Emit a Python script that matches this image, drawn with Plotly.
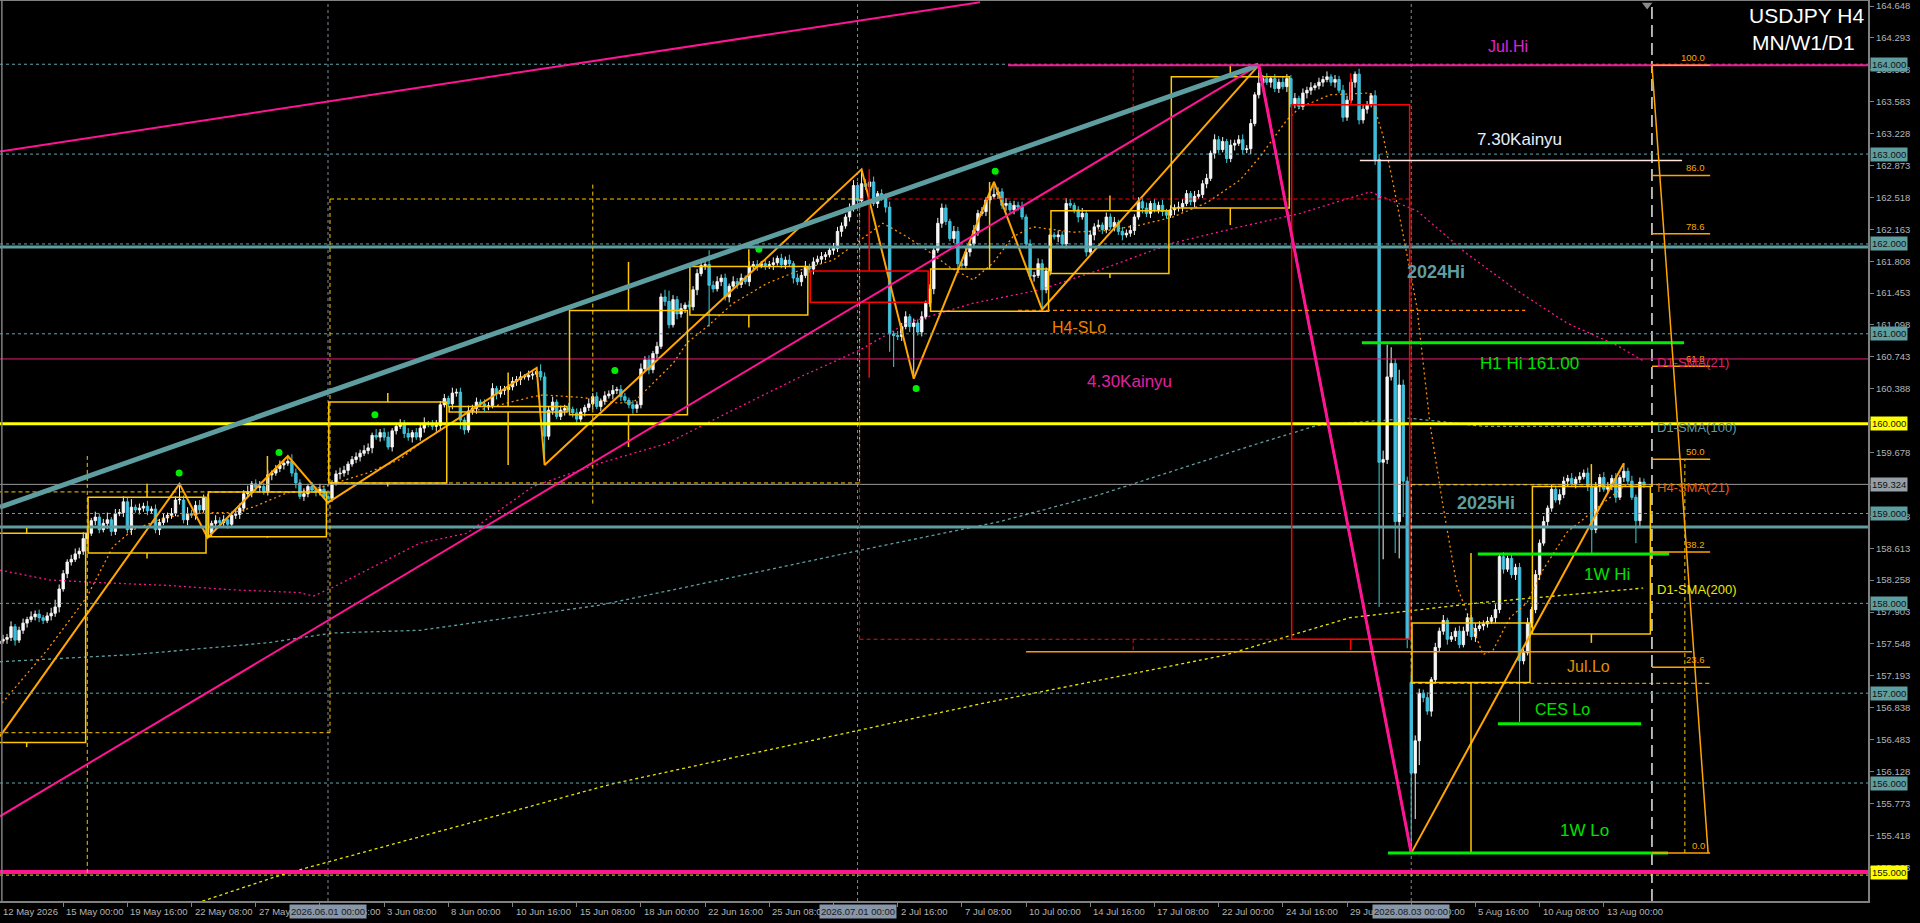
import plotly.graph_objects as go
from datetime import datetime, timedelta

# ---------------- DATA ----------------
# H4 closes, bar 0 = 12 May 2026 08:00 (trading bars only)
CLOSE = [
    157.58, 157.60, 157.62, 157.74, 157.59, 157.70, 157.78, 157.82, 157.85, 157.88,
    157.84, 157.81, 157.86, 157.89, 157.96, 158.16, 158.33, 158.46, 158.49, 158.55,
    158.58, 158.72, 158.78, 158.92, 158.96, 158.82, 158.89, 158.93, 158.80, 159.00,
    159.01, 159.13, 158.82, 159.07, 159.04, 159.06, 159.08, 159.03, 159.05, 158.82,
    158.90, 158.95, 158.98, 159.00, 159.15, 159.15, 158.93, 159.00, 158.98, 159.09,
    159.04, 159.17, 158.78, 158.89, 158.92, 158.90, 158.93, 158.88, 158.98, 158.99,
    159.06, 159.22, 159.24, 159.33, 159.29, 159.30, 159.24, 159.43, 159.45, 159.50,
    159.54, 159.56, 159.58, 159.45, 159.34, 159.19, 159.22, 159.30, 159.26, 159.24,
    159.27, 159.19, 159.17, 159.34, 159.44, 159.45, 159.48, 159.55, 159.60, 159.63,
    159.67, 159.70, 159.73, 159.87, 159.85, 159.90, 159.85, 159.74, 159.92, 159.97,
    160.00, 159.89, 159.85, 159.90, 159.85, 159.95, 160.00, 159.99, 159.97, 159.98,
    160.21, 160.28, 160.22, 160.34, 160.35, 160.04, 159.93, 160.14, 160.17, 160.24,
    160.22, 160.19, 160.20, 160.39, 160.33, 160.37, 160.38, 160.41, 160.47, 160.49,
    160.52, 160.52, 160.54, 160.55, 160.58, 160.52, 159.86, 160.15, 160.24, 160.08,
    160.15, 160.17, 160.16, 160.12, 160.05, 160.13, 160.18, 160.22, 160.30, 160.19,
    160.25, 160.31, 160.33, 160.37, 160.38, 160.30, 160.26, 160.21, 160.17, 160.21,
    160.61, 160.71, 160.60, 160.78, 160.86, 161.41, 161.36, 161.10, 161.38, 161.22,
    161.28, 161.32, 161.30, 161.49, 161.67, 161.76, 161.77, 161.54, 161.50, 161.58,
    161.62, 161.41, 161.53, 161.58, 161.55, 161.62, 161.58, 161.75, 161.77, 161.76,
    161.78, 161.76, 161.77, 161.79, 161.84, 161.77, 161.82, 161.78, 161.62, 161.58,
    161.65, 161.75, 161.72, 161.80, 161.83, 161.86, 161.88, 161.93, 161.95, 162.14,
    162.20, 162.30, 162.40, 162.65, 162.48, 162.67, 162.64, 162.69, 162.45, 162.56,
    162.52, 162.41, 161.00, 160.98, 160.97, 161.08, 161.19, 161.08, 161.12, 161.02,
    161.19, 161.34, 161.50, 161.93, 162.23, 162.40, 162.25, 162.06, 162.14, 161.78,
    161.76, 161.91, 162.00, 162.15, 162.34, 162.36, 162.49, 162.53, 162.55, 162.58,
    162.43, 162.45, 162.38, 162.43, 162.41, 162.30, 162.00, 161.64, 161.65, 161.78,
    161.49, 161.70, 162.10, 162.08, 162.10, 162.00, 162.45, 162.43, 162.38, 162.30,
    162.34, 161.91, 162.10, 162.19, 162.21, 162.16, 162.30, 162.19, 162.24, 162.14,
    162.10, 162.12, 162.15, 162.30, 162.47, 162.40, 162.34, 162.45, 162.38, 162.43,
    162.36, 162.32, 162.38, 162.40, 162.41, 162.45, 162.56, 162.47, 162.53, 162.55,
    162.67, 162.73, 163.01, 163.16, 163.05, 163.14, 162.95, 163.10, 163.12, 163.16,
    163.05, 163.06, 163.34, 163.66, 163.79, 163.84, 163.80, 163.84, 163.73, 163.80,
    163.75, 163.84, 163.56, 163.62, 163.53, 163.68, 163.71, 163.74, 163.76, 163.80,
    163.83, 163.86, 163.80, 163.83, 163.71, 163.41, 163.60, 163.80, 163.89, 163.38,
    163.50, 163.55, 163.65, 162.94, 159.57, 159.60, 160.52, 160.67, 158.91, 160.43,
    159.36, 157.60, 156.11, 156.47, 157.00, 156.95, 156.80, 157.15, 157.51, 157.69,
    157.81, 157.60, 157.63, 157.69, 157.54, 157.69, 157.84, 157.63, 157.72, 157.75,
    157.77, 157.80, 157.84, 157.93, 158.52, 158.38, 158.50, 158.32, 158.40, 157.36,
    157.45, 157.78, 157.93, 158.32, 158.67, 158.91, 159.06, 159.27, 159.15, 159.21,
    159.36, 159.39, 159.33, 159.38, 159.41, 159.45, 159.30, 158.82, 159.30, 159.40,
    159.27, 159.30, 159.39, 159.18, 159.40, 159.47, 159.36, 159.18, 158.92, 159.35,
    159.324,
]
FIRST_OPEN = 157.55
GAP_OPEN = {352: 157.12}
# wick lengths in hundredths of a yen
UP_WICK = [
    3, 5, 4, 6, 3, 4, 5, 3, 6, 4, 5, 3, 4, 6, 8, 5, 4, 3, 5, 6,
    4, 7, 5, 3, 6, 4, 5, 8, 3, 5, 4, 6, 5, 9, 3, 5, 4, 6, 3, 5,
    4, 5, 3, 6, 4, 18, 5, 7, 4, 5, 6, 4, 5, 3, 6, 4, 5, 3, 4, 6,
    5, 4, 7, 3, 5, 6, 4, 5, 3, 4, 5, 4, 6, 8, 5, 4, 6, 3, 5, 4,
    6, 4, 5, 3, 4, 6, 5, 3, 4, 5, 4, 6, 5, 3, 7, 4, 5, 6, 3, 4,
    5, 4, 6, 3, 5, 4, 7, 3, 5, 6, 4, 5, 3, 6, 4, 5, 3, 6, 4, 5,
    3, 5, 4, 6, 3, 5, 4, 3, 5, 4, 6, 3, 5, 4, 5, 8, 5, 4, 6, 3,
    5, 4, 6, 3, 5, 4, 3, 6, 4, 5, 3, 5, 4, 6, 3, 5, 4, 3, 5, 4,
    6, 4, 5, 3, 5, 4, 8, 12, 5, 4, 6, 3, 5, 4, 5, 3, 4, 16, 5, 6,
    4, 5, 3, 6, 4, 5, 3, 6, 4, 5, 3, 5, 4, 6, 3, 5, 4, 6, 3, 5,
    4, 6, 3, 5, 4, 5, 3, 4, 6, 5, 4, 3, 5, 6, 4, 16, 5, 4, 6, 3,
    5, 4, 6, 3, 5, 4, 6, 3, 5, 4, 6, 3, 5, 4, 6, 5, 4, 3, 6, 5,
    4, 5, 3, 6, 4, 5, 3, 6, 14, 5, 4, 6, 3, 5, 4, 6, 3, 5, 4, 6,
    5, 4, 6, 3, 5, 4, 6, 5, 3, 4, 6, 3, 5, 4, 6, 3, 5, 4, 6, 3,
    5, 4, 6, 3, 5, 4, 6, 3, 5, 4, 6, 3, 5, 4, 6, 5, 4, 3, 6, 5,
    4, 5, 3, 6, 4, 5, 3, 6, 4, 5, 6, 4, 5, 3, 20, 4, 6, 3, 5, 4,
    6, 5, 4, 6, 3, 5, 4, 6, 3, 5, 4, 6, 3, 5, 4, 6, 5, 4, 3, 6,
    5, 4, 3, 6, 6, 10, 36, 18, 5, 17, 6, 5, 8, 6, 5, 4, 6, 3, 5, 4,
    6, 3, 5, 4, 6, 5, 4, 3, 6, 5, 4, 5, 3, 6, 4, 5, 3, 6, 4, 5,
    4, 6, 3, 5, 4, 6, 3, 5, 4, 6, 5, 4, 6, 3, 5, 4, 6, 3, 5, 4,
    6, 5, 4, 6, 3, 9, 4, 6, 3, 5, 4,
]
DN_WICK = [
    4, 3, 5, 4, 6, 3, 4, 5, 3, 4, 5, 4, 3, 5, 4, 6, 3, 5, 4, 3,
    5, 4, 6, 3, 5, 4, 3, 6, 5, 4, 3, 5, 4, 6, 3, 5, 4, 5, 3, 4,
    6, 3, 5, 4, 3, 5, 4, 6, 3, 5, 4, 3, 5, 4, 6, 3, 4, 5, 3, 4,
    5, 4, 3, 6, 4, 5, 3, 4, 6, 3, 4, 5, 3, 4, 6, 3, 5, 4, 3, 5,
    4, 3, 5, 4, 3, 6, 4, 5, 3, 4, 5, 3, 4, 6, 3, 5, 4, 3, 5, 4,
    3, 5, 4, 6, 3, 4, 5, 3, 4, 6, 5, 3, 4, 6, 4, 10, 5, 3, 4, 6,
    3, 5, 4, 3, 6, 4, 5, 3, 4, 5, 6, 3, 4, 5, 3, 4, 32, 4, 5, 3,
    4, 6, 3, 5, 4, 3, 5, 4, 6, 3, 5, 4, 3, 6, 4, 5, 3, 4, 6, 5,
    4, 3, 5, 4, 6, 3, 5, 4, 3, 6, 4, 5, 3, 4, 6, 3, 5, 46, 4, 3,
    5, 4, 6, 3, 5, 4, 3, 5, 4, 6, 3, 5, 4, 6, 3, 4, 5, 3, 6, 4,
    5, 3, 4, 6, 3, 5, 4, 3, 5, 4, 6, 3, 5, 4, 3, 5, 4, 6, 3, 5,
    4, 6, 20, 35, 4, 5, 3, 6, 58, 4, 5, 3, 4, 6, 3, 5, 4, 3, 5, 6,
    4, 3, 5, 4, 6, 3, 5, 4, 3, 5, 4, 6, 3, 5, 4, 3, 5, 4, 6, 3,
    22, 4, 5, 3, 6, 4, 5, 3, 4, 6, 3, 5, 4, 6, 3, 5, 4, 3, 5, 4,
    6, 3, 4, 5, 3, 6, 4, 5, 3, 4, 5, 4, 3, 6, 4, 5, 3, 4, 6, 3,
    4, 5, 3, 6, 4, 3, 5, 4, 6, 3, 5, 4, 6, 3, 4, 5, 3, 6, 4, 5,
    3, 6, 4, 5, 3, 4, 6, 5, 3, 4, 5, 3, 4, 6, 3, 5, 4, 3, 6, 5,
    4, 5, 3, 6, 161, 108, 5, 4, 35, 41, 40, 10, 89, 51, 27, 5, 4, 6, 3, 5,
    4, 6, 3, 5, 4, 3, 5, 4, 6, 3, 5, 4, 3, 6, 4, 5, 3, 4, 6, 68,
    4, 3, 5, 4, 6, 3, 5, 4, 3, 5, 4, 6, 3, 5, 4, 3, 5, 26, 4, 6,
    3, 5, 4, 6, 3, 5, 4, 3, 25, 7, 4,
]

# weekly higher-timeframe candles (first bar index of each week)
WEEK_FIRST_BAR = [-8, 22, 52, 82, 112, 142, 172, 202, 232, 262, 292, 322, 352, 382]
WEEK_OPEN = [156.45, 158.56, 158.74, 159.34, 160.13, 160.10, 161.21, 161.70, 161.25, 161.67, 162.40, 163.55, 157.12, 157.66]
WEEK_CLOSE = [158.78, 159.18, 159.24, 160.24, 160.19, 161.26, 161.75, 161.35, 161.72, 162.37, 163.86, 157.60, 157.78, 159.30]
WEEK_HIGH = [158.84, 159.33, 159.64, 160.34, 160.57, 161.80, 161.94, 162.83, 162.69, 162.54, 163.98, 163.90, 158.56, 159.55]
WEEK_LOW = [156.40, 158.50, 158.73, 159.30, 159.54, 159.74, 161.07, 160.51, 161.25, 161.62, 162.21, 157.48, 155.22, 157.56]

# monthly higher-timeframe candles
MONTH_X0 = [-44, 82.5, 214.5, 352]
MONTH_X1 = [82.5, 214.5, 352, 426.5]
MONTH_WICK_X = [22, 148, 282.7, 420.2]
MONTH_OPEN = [156.56, 159.34, 162.50, 157.11]
MONTH_CLOSE = [159.24, 162.50, 157.60, 159.32]
MONTH_HIGH = [159.64, 162.68, 164.00, 159.60]
MONTH_LOW = [155.00, 159.11, 157.48, 155.22]
MONTH_RIGHT_EDGE = [True, True, True, False]
MONTH_WICK_THROUGH_BODY = [True, True, False, True]

# moving averages (waypoints)
H4SMA21_X = [0.75, 12.0, 21.9, 28.4, 33.4, 41.9, 51.8, 58.3, 63.3, 71.8, 77.5, 82.5, 91.7, 99.9, 104.9, 116.6,
             133.1, 135.6, 145.6, 154.0, 158.0, 163.0, 168.0, 171.5, 176.5, 183.0, 191.4, 199.7, 207.9, 214.6,
             220.3, 226.3, 231.3, 237.0, 242.8, 247.8, 252.7, 257.7, 267.7, 276.2, 284.4, 292.6, 301.1, 309.3,
             314.3, 321.0, 324.3, 331.8, 341.7, 345.0, 347.5, 350.9, 353.4, 356.7, 359.9, 363.4, 365.9, 369.9,
             372.4, 376.6, 380.9, 384.8, 390.8, 399.0, 405.8, 409.8]
H4SMA21_Y = [156.89, 157.48, 158.07, 158.63, 158.82, 158.96, 159.01, 159.01, 159.07, 159.23, 159.26, 159.32, 159.45,
             159.60, 159.78, 160.12, 160.30, 160.32, 160.29, 160.23, 160.23, 160.45, 160.67, 160.90, 161.08, 161.34,
             161.56, 161.71, 161.82, 162.04, 162.23, 162.08, 161.93, 161.74, 161.60, 161.79, 162.08, 162.19, 162.13,
             162.15, 162.21, 162.30, 162.46, 162.71, 162.97, 163.38, 163.52, 163.66, 163.68, 163.20, 162.67, 161.89,
             161.30, 159.99, 159.09, 158.19, 157.90, 157.43, 157.48, 157.84, 158.01, 158.37, 158.79, 159.09, 159.33,
             159.27]
D1SMA21_X = [0.25, 12.7, 25.2, 41.9, 58.3, 75.0, 78.3, 83.3, 91.7, 104.9, 116.6, 133.1, 149.8, 166.5, 182.9, 199.7,
             214.6, 226.3, 242.8, 259.5, 276.2, 292.6, 309.3, 324.3, 341.7, 353.4, 365.9, 378.4, 390.8, 403.3, 409.8]
D1SMA21_Y = [158.37, 158.26, 158.23, 158.20, 158.15, 158.12, 158.08, 158.18, 158.37, 158.67, 158.78, 159.30, 159.56,
             159.78, 160.15, 160.52, 160.82, 161.12, 161.34, 161.49, 161.74, 162.01, 162.19, 162.34, 162.58, 162.37,
             161.89, 161.48, 161.12, 160.87, 160.70]
D1SMA100_X = [0.25, 33.4, 66.8, 83.2, 104.9, 149.8, 191.4, 214.6, 249.5, 274.4, 311.8, 328.5, 351.7, 369.9, 409.8]
D1SMA100_Y = [157.35, 157.43, 157.56, 157.67, 157.70, 157.98, 158.37, 158.59, 158.91, 159.21, 159.75, 159.98, 160.06,
              159.97, 159.97]
D1SMA200_X = [45.0, 70.5, 152.8, 244.5, 305.3, 336.7, 369.9, 409.8]
D1SMA200_Y = [154.60, 154.98, 155.99, 156.88, 157.42, 157.84, 158.01, 158.17]

# zigzag swing points
ZZ_X = [0.25, 45, 52, 72, 82, 134, 136, 215, 228, 248, 260, 314, 352, 405]
ZZ_Y = [156.52, 159.33, 158.73, 159.64, 159.12, 160.62, 159.54, 162.83, 160.50, 162.69, 161.27, 163.99, 155.22, 159.56]

# fractal dots
FRACTAL_X = [44.9, 69.8, 93.7, 153.5, 189.4, 248.3, 228.6]
FRACTAL_Y = [159.45, 159.68, 160.10, 160.59, 161.94, 162.81, 160.39]

# trend lines (x: bar index, y: price)
TREND_TOP = ([0.25, 244.5], [163.03, 164.69])
TREND_TEAL = ([0.25, 314], [159.07, 163.99])
TREND_PINK = ([0.25, 314], [155.63, 163.99])
DROP_PINK = ([314, 352], [163.99, 155.22])

# horizontal levels
ROUND_LEVELS = [155, 156, 157, 158, 159, 160, 161, 162, 163, 164]
TEAL_LEVELS = [161.966, 158.85]
YELLOW_LEVEL = 160.0
MAGENTA_LEVEL = 155.01
YELLOW_DASH_LEVEL = 154.975
BID = 159.324
D1SMA21_LEVEL = 160.72

# partial horizontal segments: (x0, x1, price)
JUL_HI_SEG = (251.5, 466, 163.99)
KAINYU730_SEG = (339.2, 419.5, 162.93)
H1HI_SEG = (339.7, 420.0, 160.90)
W1HI_SEG = (368.6, 416.3, 158.55)
CESLO_SEG = (373.6, 409.3, 156.66)
W1LO_SEG = (346.2, 416.0, 155.22)
JULLO_SEG = (256.0, 422.0, 157.46)
H4SLO_SEG = (254.0, 380.4, 161.26)

# fibonacci retracement
FIB_LOW, FIB_HIGH = 155.22, 163.99
FIB_LEVELS = [0.0, 23.6, 38.2, 50.0, 61.8, 78.6, 86.0, 100.0]
FIB_X0, FIB_X1 = 412.0, 426.5

MONTH_LINES = [82, 214, 352]
SHIFT_LINE = 412.0

Y_TICKS = [round(164.648 - 0.355 * k, 3) for k in range(28)]
HIDDEN_TICK_TEXT = [160.033, 159.323]
PRICE_TAGS = [(164.0, "164.000", "#5f9ea0"), (163.0, "163.000", "#5f9ea0"), (162.0, "162.000", "#5f9ea0"),
              (161.0, "161.000", "#5f9ea0"), (160.0, "160.000", "#ffff00"), (159.324, "159.324", "#959fa8"),
              (159.0, "159.000", "#5f9ea0"), (158.0, "158.000", "#5f9ea0"), (157.0, "157.000", "#5f9ea0"),
              (156.0, "156.000", "#5f9ea0"), (155.0, "155.000", "#ffff00")]

# ---------------- BUILD ----------------
N = len(CLOSE)
OPEN = [FIRST_OPEN] + CLOSE[:-1]
for k, v in GAP_OPEN.items():
    OPEN[k] = v
HIGH = [max(OPEN[i], CLOSE[i]) + UP_WICK[i] / 100 for i in range(N)]
LOW = [min(OPEN[i], CLOSE[i]) - DN_WICK[i] / 100 for i in range(N)]

times = []
t = datetime(2026, 5, 12, 8, 0)
while len(times) < N:
    if t.weekday() < 5:
        times.append(t)
    t += timedelta(hours=4)

X_RANGE = [0.249, 465.85]
Y_RANGE = [154.687, 164.715]

fig = go.Figure()


def dotted(xs, ys, color, dash="2px,3px", width=1.3):
    fig.add_trace(go.Scatter(x=xs, y=ys, mode="lines", line=dict(color=color, width=width, dash=dash),
                             hoverinfo="skip", showlegend=False))


dotted(D1SMA200_X, D1SMA200_Y, "#e6e600", "3px,3px")
dotted(D1SMA100_X, D1SMA100_Y, "#5f9ea0", "3px,3px")
dotted(D1SMA21_X, D1SMA21_Y, "#ff1493", "2px,3px")
dotted(H4SMA21_X, H4SMA21_Y, "#ff8c00", "2px,3px")

# wicks
for bull in (True, False):
    wx, wy = [], []
    for i in range(N):
        if (CLOSE[i] >= OPEN[i]) == bull:
            wx += [i, i, None]
            wy += [LOW[i], HIGH[i], None]
    fig.add_trace(go.Scatter(x=wx, y=wy, mode="lines",
                             line=dict(color="#f4f4f4" if bull else "#3fd0d8", width=1),
                             hoverinfo="skip", showlegend=False))
# bodies
for bull in (True, False):
    bx, bb, bh = [], [], []
    for i in range(N):
        if (CLOSE[i] >= OPEN[i]) == bull:
            bx.append(i)
            lo = min(OPEN[i], CLOSE[i])
            bb.append(lo)
            bh.append(max(abs(CLOSE[i] - OPEN[i]), 0.008))
    fig.add_trace(go.Bar(x=bx, y=bh, base=bb, width=0.62,
                         marker=dict(color="#ffffff" if bull else "#2f9fe6",
                                     line=dict(color="#ffffff" if bull else "#4fd6e6", width=0.8)),
                         hoverinfo="skip", showlegend=False))

# zigzag
fig.add_trace(go.Scatter(x=ZZ_X, y=ZZ_Y, mode="lines", line=dict(color="#ffa500", width=2),
                         hoverinfo="skip", showlegend=False))
# fractals
fig.add_trace(go.Scatter(x=FRACTAL_X, y=FRACTAL_Y, mode="markers",
                         marker=dict(color="#00ee00", size=7), hoverinfo="skip", showlegend=False))
# shift marker triangle
fig.add_trace(go.Scatter(x=[410.8], y=[164.66], mode="markers",
                         marker=dict(color="#8a8a8a", size=9, symbol="triangle-down"),
                         hoverinfo="skip", showlegend=False))

shapes = []


def hline(y, x0=None, x1=None, color="#fff", width=1, dash="solid", layer="above"):
    if x0 is None:
        shapes.append(dict(type="line", xref="paper", yref="y", x0=0, x1=1, y0=y, y1=y,
                           line=dict(color=color, width=width, dash=dash), layer=layer))
    else:
        shapes.append(dict(type="line", xref="x", yref="y", x0=x0, x1=x1, y0=y, y1=y,
                           line=dict(color=color, width=width, dash=dash), layer=layer))


def seg(x0, y0, x1, y1, color, width=1, dash="solid", layer="above"):
    shapes.append(dict(type="line", xref="x", yref="y", x0=x0, x1=x1, y0=y0, y1=y1,
                       line=dict(color=color, width=width, dash=dash), layer=layer))


# month separators and shift line
for m in MONTH_LINES:
    shapes.append(dict(type="line", xref="x", yref="paper", x0=m, x1=m, y0=0, y1=1,
                       line=dict(color="#7f8c99", width=1, dash="3px,3px"), layer="below"))
shapes.append(dict(type="line", xref="x", yref="paper", x0=SHIFT_LINE, x1=SHIFT_LINE, y0=0, y1=1,
                   line=dict(color="#e8e8e8", width=1.5, dash="12px,6px"), layer="above"))

# round number dashed levels
for lv in ROUND_LEVELS:
    hline(lv, color="#5fa8b0", width=1, dash="3px,3px")
for lv in TEAL_LEVELS:
    hline(lv, color="#5f9ea0", width=3)
hline(D1SMA21_LEVEL, color="#e0207a", width=1)
hline(BID, color="#9a9a9a", width=1)
hline(YELLOW_DASH_LEVEL, color="#ffd700", width=1, dash="3px,3px")
hline(YELLOW_LEVEL, color="#ffff00", width=3)
hline(MAGENTA_LEVEL, color="#ff1493", width=4)

# monthly dashed candles
for k in range(len(MONTH_X0)):
    bull = MONTH_CLOSE[k] >= MONTH_OPEN[k]
    col = "#ffc800" if bull else "#ff0000"
    lo, hi = min(MONTH_OPEN[k], MONTH_CLOSE[k]), max(MONTH_OPEN[k], MONTH_CLOSE[k])
    x0, x1 = MONTH_X0[k], MONTH_X1[k]
    seg(x0, hi, x1, hi, col, 1, "4px,3px")
    seg(x0, lo, x1, lo, col, 1, "4px,3px")
    seg(x0, lo, x0, hi, col, 1, "4px,3px")
    if MONTH_RIGHT_EDGE[k]:
        seg(x1, lo, x1, hi, col, 1, "4px,3px")
    wx = MONTH_WICK_X[k]
    if MONTH_WICK_THROUGH_BODY[k]:
        seg(wx, MONTH_LOW[k], wx, MONTH_HIGH[k], col, 1, "4px,3px")
    else:
        seg(wx, hi, wx, MONTH_HIGH[k], col, 1, "4px,3px")
        seg(wx, MONTH_LOW[k], wx, lo, col, 1, "4px,3px")

# weekly candles
for k in range(len(WEEK_FIRST_BAR)):
    bull = WEEK_CLOSE[k] >= WEEK_OPEN[k]
    col = "#ffc800" if bull else "#ff0000"
    x0 = WEEK_FIRST_BAR[k] + 0.2
    x1 = WEEK_FIRST_BAR[k] + 29 + 0.6
    mid = (x0 + x1) / 2
    lo, hi = min(WEEK_OPEN[k], WEEK_CLOSE[k]), max(WEEK_OPEN[k], WEEK_CLOSE[k])
    shapes.append(dict(type="rect", xref="x", yref="y", x0=x0, x1=x1, y0=lo, y1=hi,
                       line=dict(color=col, width=1.5), fillcolor="rgba(0,0,0,0)", layer="above"))
    seg(mid, hi, mid, WEEK_HIGH[k], col, 1.5)
    seg(mid, WEEK_LOW[k], mid, lo, col, 1.5)

# trend lines
seg(TREND_TOP[0][0], TREND_TOP[1][0], TREND_TOP[0][1], TREND_TOP[1][1], "#ff1493", 2)
seg(TREND_PINK[0][0], TREND_PINK[1][0], TREND_PINK[0][1], TREND_PINK[1][1], "#ff1493", 2)
seg(TREND_TEAL[0][0], TREND_TEAL[1][0], TREND_TEAL[0][1], TREND_TEAL[1][1], "#5f9ea0", 5)
seg(DROP_PINK[0][0], DROP_PINK[1][0], DROP_PINK[0][1], DROP_PINK[1][1], "#ff1493", 3)

# partial levels
hline(JUL_HI_SEG[2], JUL_HI_SEG[0], JUL_HI_SEG[1], "#ff1493", 2)
hline(KAINYU730_SEG[2], KAINYU730_SEG[0], KAINYU730_SEG[1], "#ffe4e1", 1.5)
hline(H4SLO_SEG[2], H4SLO_SEG[0], H4SLO_SEG[1], "#ff8c00", 1.2, "4px,3px")
hline(JULLO_SEG[2], JULLO_SEG[0], JULLO_SEG[1], "#ff9900", 1.5)
for s in (H1HI_SEG, W1HI_SEG, CESLO_SEG, W1LO_SEG):
    hline(s[2], s[0], s[1], "#00ee00", 3)

# fibonacci
for lv in FIB_LEVELS:
    p = FIB_LOW + lv / 100 * (FIB_HIGH - FIB_LOW)
    hline(p, FIB_X0, FIB_X1, "#ffa500", 1.5)
seg(FIB_X0, FIB_HIGH, FIB_X1 - 0.5, FIB_LOW, "#ffa500", 1.5)

# frame
shapes.append(dict(type="line", xref="paper", yref="paper", x0=0, x1=1, y0=1, y1=1,
                   line=dict(color="#808080", width=2), layer="above"))
shapes.append(dict(type="line", xref="paper", yref="paper", x0=0.001, x1=0.001, y0=0, y1=1,
                   line=dict(color="#808080", width=1.5), layer="above"))

ann = []
AX_FONT = dict(family="Arial", size=9.5, color="#b4b4b4")

# x-axis labels
for i in range(0, N, 16):
    tt = times[i]
    txt = "12 May 2026" if i == 0 else f"{tt.day} {tt.strftime('%b')} {tt.strftime('%H:%M')}"
    ann.append(dict(x=max(i, 0.3), xref="x", y=0, yref="paper", text=txt, showarrow=False, xanchor="left",
                    yanchor="top", xshift=1, yshift=-3, font=AX_FONT))
for m in MONTH_LINES:
    ann.append(dict(x=m, xref="x", y=0, yref="paper", text=times[m].strftime("%Y.%m.%d %H:%M"),
                    showarrow=False, xanchor="center", yanchor="top", yshift=-3,
                    bgcolor="#8796a8", borderpad=1, font=dict(family="Arial", size=9.5, color="#1a1a1a")))

# price tags
for p, txt, bg in PRICE_TAGS:
    ann.append(dict(x=1, xref="paper", y=p, yref="y", text=txt, showarrow=False, xanchor="left",
                    yanchor="middle", xshift=2, bgcolor=bg, borderpad=1,
                    font=dict(family="Arial", size=9.5, color="#111111")))

# fib labels
for lv in FIB_LEVELS:
    p = FIB_LOW + lv / 100 * (FIB_HIGH - FIB_LOW)
    ann.append(dict(x=425.7, xref="x", y=p, yref="y", text=f"{lv:.1f}", showarrow=False,
                    xanchor="right", yanchor="bottom", yshift=0,
                    font=dict(family="Arial", size=9.5, color="#ffa500")))

LABELS = [
    ("Jul.Hi", 376.1, 164.192, "#e020d8", 16, False),
    ("7.30Kainyu", 379.1, 163.157, "#e6eeff", 17, False),
    ("2024Hi", 358.2, 161.687, "#5f9ea0", 18, True),
    ("H4-SLo", 269.2, 161.075, "#f08000", 16, False),
    ("4.30Kainyu", 281.9, 160.474, "#e020a0", 17, False),
    ("H1 Hi 161.00", 381.6, 160.664, "#00e000", 17, False),
    ("2025Hi", 370.6, 159.117, "#5f9ea0", 18, True),
    ("1W Hi", 400.8, 158.326, "#00e000", 17, False),
    ("Jul.Lo", 396.1, 157.302, "#e09000", 16, False),
    ("CES Lo", 389.6, 156.813, "#00e000", 16, False),
    ("1W Lo", 395.1, 155.477, "#00e000", 17, False),
]
for txt, x, y, c, s, b in LABELS:
    ann.append(dict(x=x, xref="x", y=y, yref="y", text=f"<b>{txt}</b>" if b else txt, showarrow=False,
                    xanchor="center", yanchor="middle", font=dict(family="Arial", size=s, color=c)))

SMA_LABELS = [("D1-SMA(21)", 160.686, "#e0206a"), ("D1-SMA(100)", 159.962, "#5f9ea0"),
              ("H4-SMA(21)", 159.284, "#e06010"), ("D1-SMA(200)", 158.159, "#e8e800")]
for txt, y, c in SMA_LABELS:
    ann.append(dict(x=412.8, xref="x", y=y, yref="y", text=txt, showarrow=False, xanchor="left",
                    yanchor="middle", font=dict(family="Arial", size=13, color=c)))

ann.append(dict(x=1866 / 1868, xref="paper", y=1 - 16 / 901, yref="paper", text="USDJPY H4", showarrow=False,
                xanchor="right", yanchor="middle", font=dict(family="Arial", size=21, color="#ffffff")))
ann.append(dict(x=1857 / 1868, xref="paper", y=1 - 43 / 901, yref="paper", text="MN/W1/D1", showarrow=False,
                xanchor="right", yanchor="middle", font=dict(family="Arial", size=21, color="#ffffff")))

tick_text = ["" if v in HIDDEN_TICK_TEXT else f"{v:.3f}" for v in Y_TICKS]

fig.update_layout(
    width=1920, height=923, margin=dict(l=0, r=52, t=0, b=22),
    paper_bgcolor="#000000", plot_bgcolor="#000000",
    barmode="overlay", showlegend=False, hovermode=False,
    shapes=shapes, annotations=ann,
    xaxis=dict(range=X_RANGE, showgrid=False, zeroline=False, showline=True, linecolor="#808080", linewidth=2,
               ticks="outside", ticklen=4, tickcolor="#808080", tickvals=list(range(0, N, 16)),
               showticklabels=False),
    yaxis=dict(range=Y_RANGE, side="right", showgrid=False, zeroline=False, showline=True, linecolor="#808080",
               linewidth=2, ticks="outside", ticklen=4, tickcolor="#808080", tickvals=Y_TICKS,
               ticktext=tick_text, tickfont=AX_FONT),
)

PAGE_JS = ("document.documentElement.style.margin='0';document.body.style.margin='0';"
           "document.body.style.padding='0';document.body.style.background='#000';"
           "document.documentElement.style.background='#000';document.body.style.overflow='hidden';")

fig.write_html("out.html", post_script=PAGE_JS, config={"displayModeBar": False})
